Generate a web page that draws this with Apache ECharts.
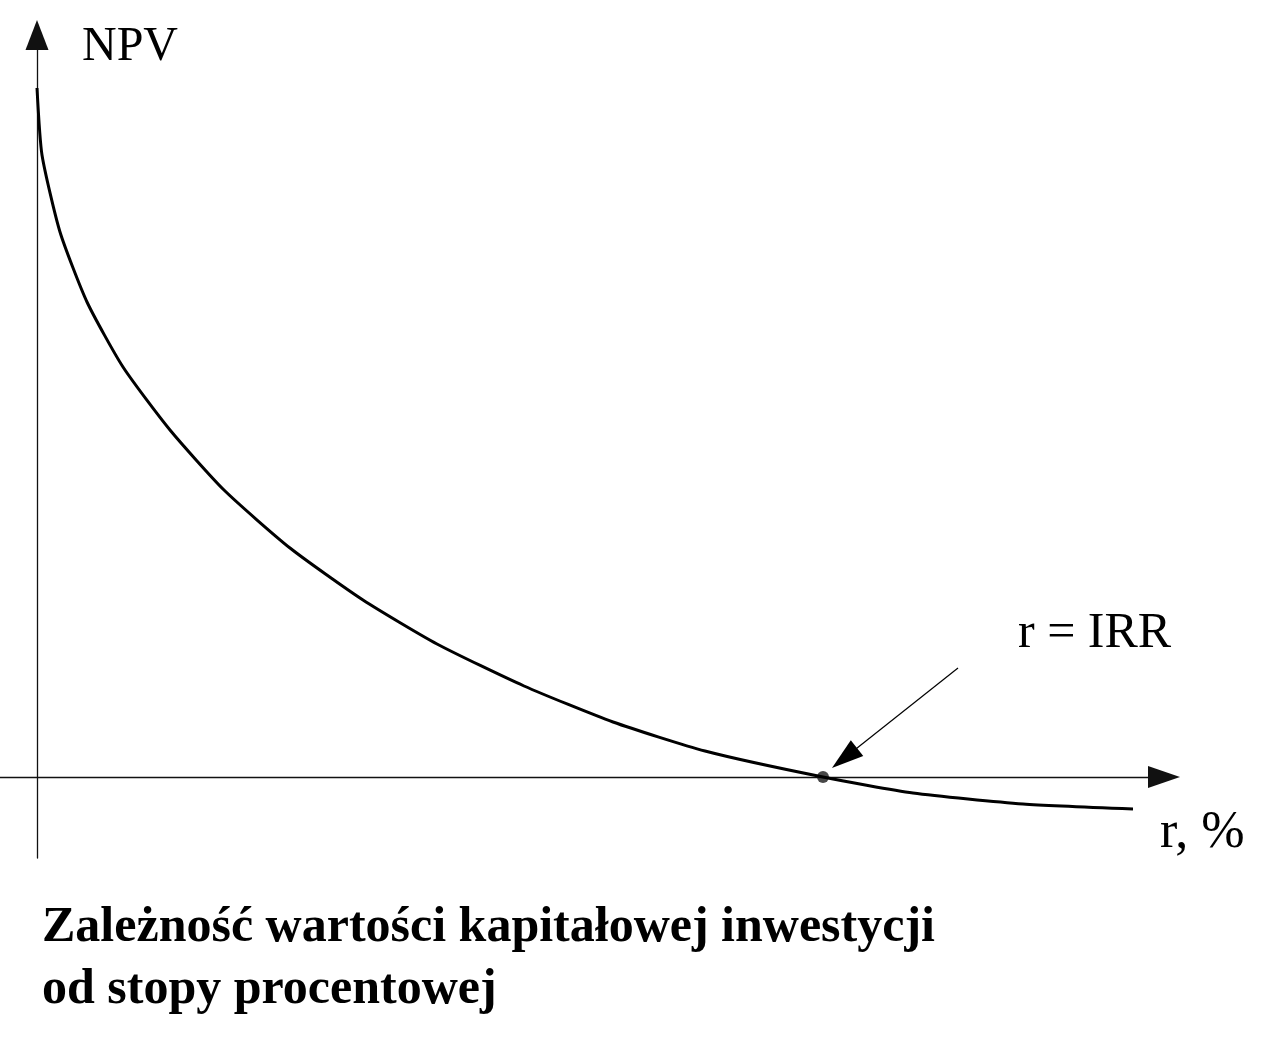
<!DOCTYPE html>
<html>
<head>
<meta charset="utf-8">
<script src="https://cdn.jsdelivr.net/npm/echarts@6/dist/echarts.min.js"></script>
<style>
html,body{margin:0;padding:0;background:#fff;}
#chart{width:1270px;height:1041px;}
</style>
</head>
<body>
<div id="chart"></div>
<script>
// Data (arbitrary units: r in %, NPV in value units)
const rValues   = [0, 0.5, 2.3, 5.0, 8.6, 13.3, 18.7, 25.3, 32.6, 40.0, 48.7, 57.6, 66.8, 78.6, 87.6, 98.6, 109.6];
const npvValues = [68.9, 62.2, 54.5, 47.5, 41.0, 34.7, 28.7, 22.9, 17.7, 13.3, 9.1, 5.5, 2.6, 0, -1.6, -2.7, -3.2];
const irrPoint = [78.6, 0];
const arrowFrom = [92.1, 10.9];
const arrowTo = [80.75, 1.9];
const xRange = [-3.7, 112.7];
const yRange = [-8.1, 74.2];
const labels = { y: 'NPV', x: 'r, %', irr: 'r = IRR' };
const titleLines = ['Zależność wartości kapitałowej inwestycji', 'od stopy procentowej'];

const curve = rValues.map((r, i) => [r, npvValues[i]]);
const serif = '"Liberation Serif", "Times New Roman", serif';

const chart = echarts.init(document.getElementById('chart'), null, { renderer: 'canvas' });
chart.setOption({
  animation: false,
  backgroundColor: '#fff',
  title: {
    text: titleLines.join('\n'),
    left: 42,
    top: 897,
    padding: 0,
    textStyle: { fontFamily: serif, fontWeight: 'bold', fontSize: 50, lineHeight: 62, color: '#000' }
  },
  grid: { left: 0, right: 106, top: 35, bottom: 183 },
  xAxis: {
    type: 'value', min: xRange[0], max: xRange[1],
    axisLine: { onZero: true, symbol: ['none', 'triangle'], symbolSize: [22, 32], lineStyle: { color: '#111', width: 1.4 } },
    axisTick: { show: false }, axisLabel: { show: false }, splitLine: { show: false }
  },
  yAxis: {
    type: 'value', min: yRange[0], max: yRange[1],
    axisLine: { show: true, onZero: true, symbol: ['none', 'triangle'], symbolSize: [23, 30], lineStyle: { color: '#111', width: 1.3 } },
    axisTick: { show: false }, axisLabel: { show: false }, splitLine: { show: false }
  },
  series: [
    {
      type: 'line', data: curve, showSymbol: false, smooth: 0.2,
      lineStyle: { color: '#000', width: 3 },
      markLine: {
        silent: true, symbol: ['none', 'triangle'], symbolSize: [20, 32],
        label: { show: false },
        lineStyle: { color: '#000', width: 1.2, type: 'solid' },
        data: [[{ coord: arrowFrom }, { coord: arrowTo }]]
      }
    },
    {
      type: 'scatter', data: [irrPoint], symbol: 'circle', symbolSize: 12,
      itemStyle: { color: '#1a1a1a' }
    }
  ],
  graphic: [
    { type: 'text', left: 82, top: 23, style: { text: labels.y, font: '48px ' + serif, fill: '#000' } },
    { type: 'text', left: 1018, top: 609, style: { text: labels.irr, font: '50px ' + serif, fill: '#000' } },
    { type: 'text', left: 1160, top: 807, style: { text: labels.x, font: '52px ' + serif, fill: '#000' } }
  ]
});
</script>
</body>
</html>
